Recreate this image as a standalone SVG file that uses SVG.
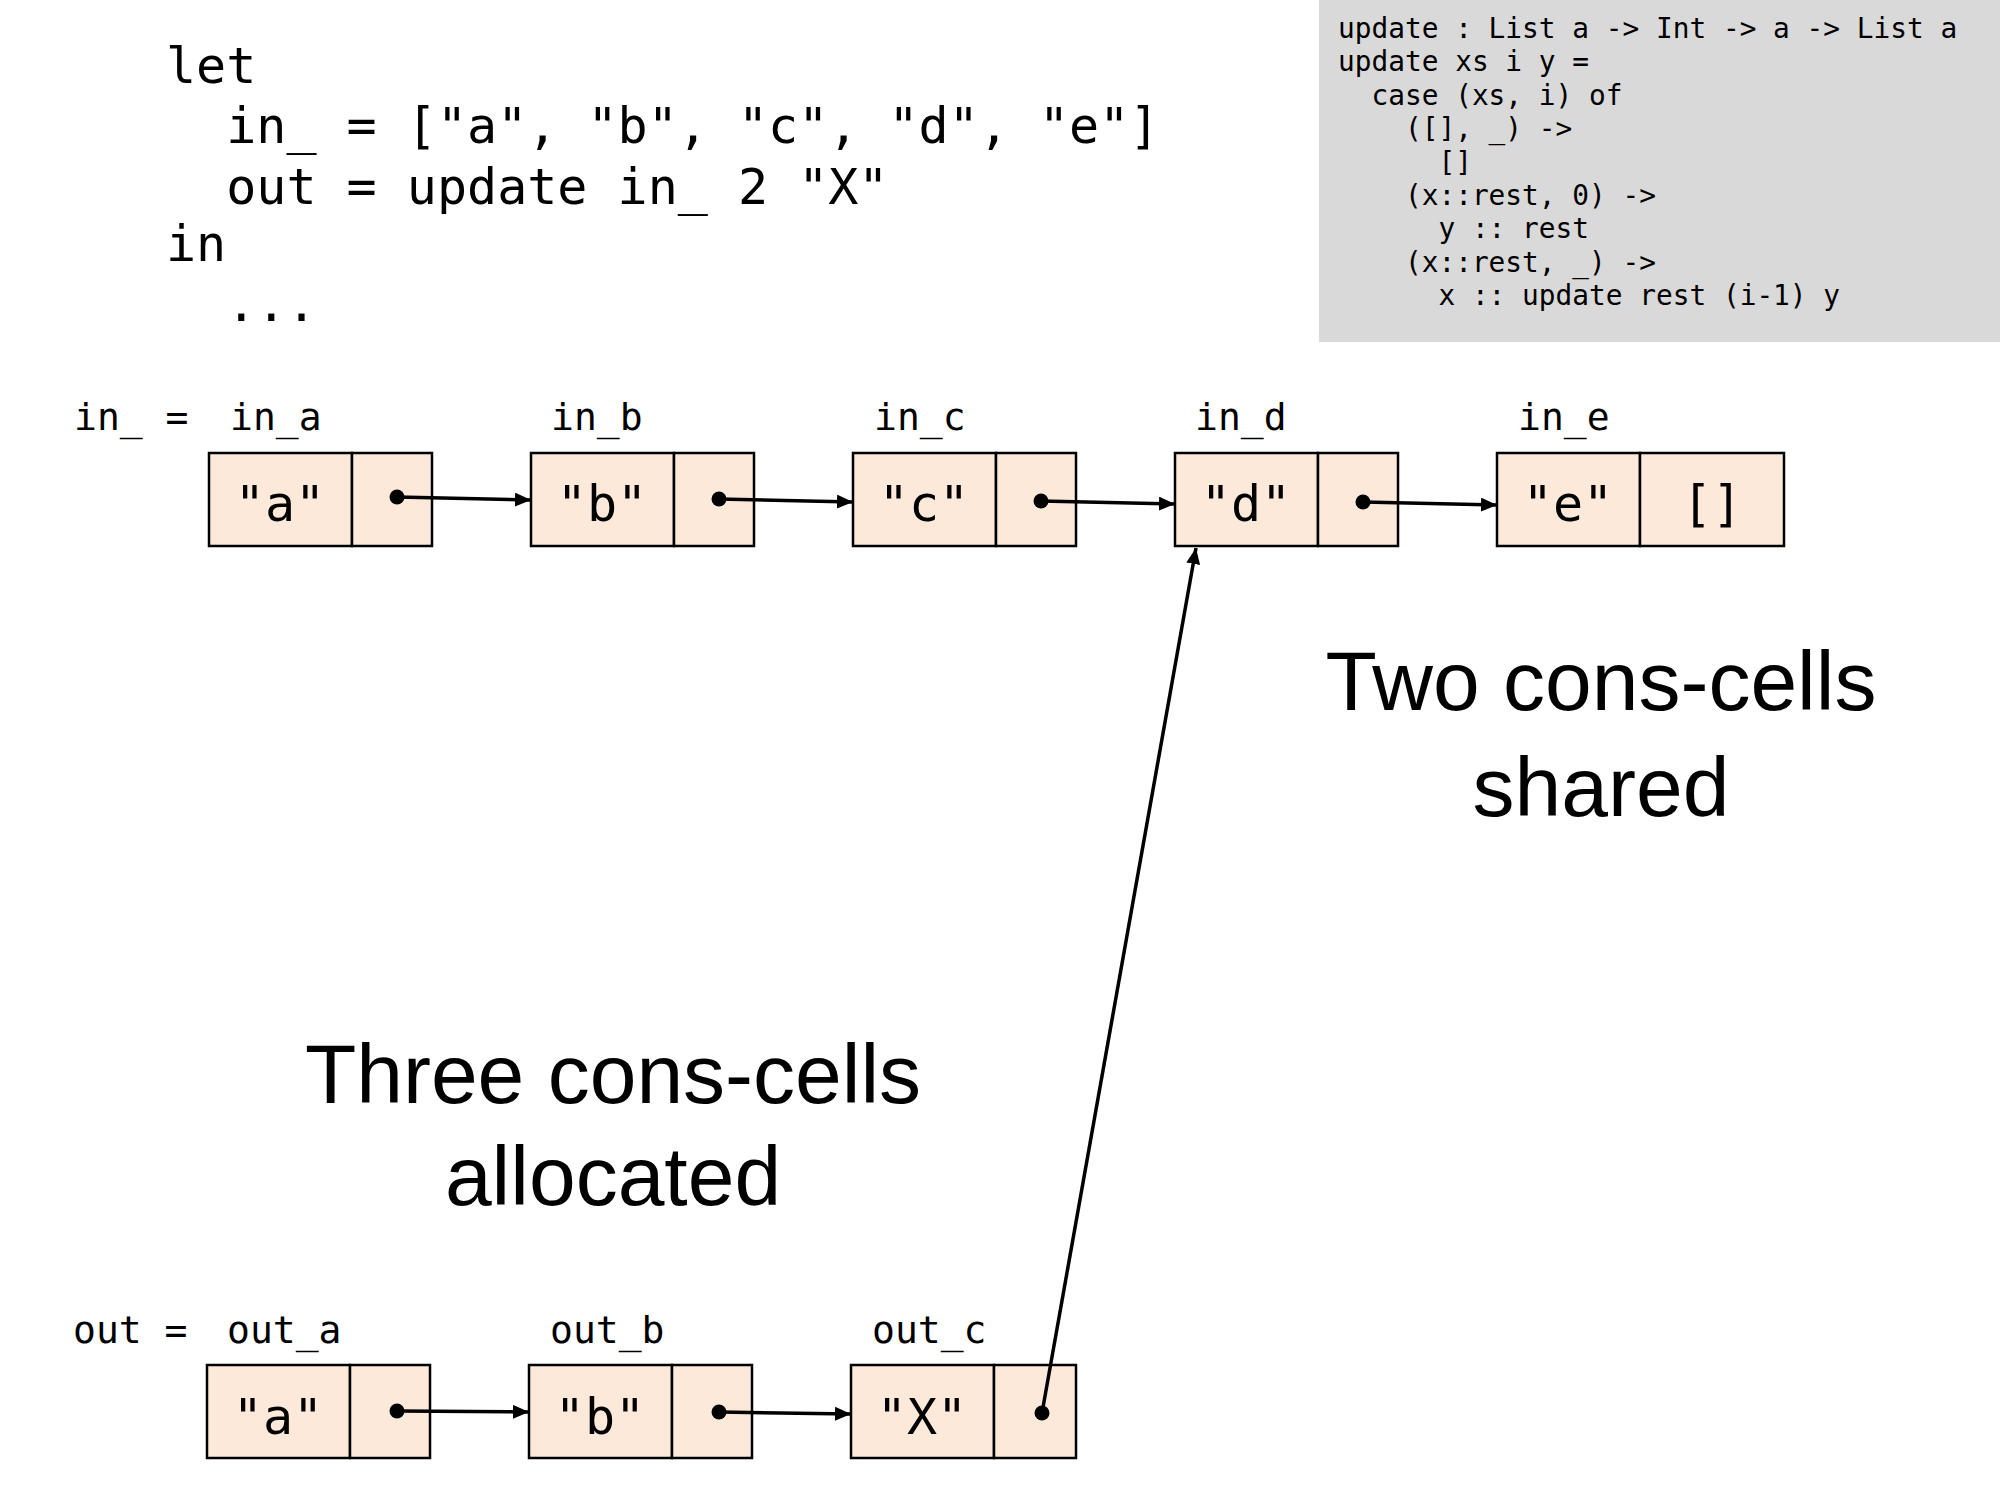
<svg xmlns="http://www.w3.org/2000/svg" width="2000" height="1500" viewBox="0 0 2000 1500">
  <defs>
    <marker id="arr" viewBox="0 0 16 14" refX="16" refY="7" markerWidth="16" markerHeight="14" markerUnits="userSpaceOnUse" orient="auto">
      <path d="M0,0 L16,7 L0,14 z" fill="#000"/>
    </marker>
    <style>
      .mono{font-family:"DejaVu Sans Mono","Liberation Mono",monospace;fill:#000}
      .code{font-size:50px}
      .small{font-size:27.8px}
      .lbl{font-size:38px}
      .val{font-size:50px;text-anchor:middle}
      .cell{fill:#fde9d9;stroke:#000;stroke-width:2.5}
      .big{font-family:"Liberation Sans","Open Sans",sans-serif;font-size:84px;text-anchor:middle;fill:#000}
      .edge{stroke:#000;stroke-width:3.5;fill:none;marker-end:url(#arr)}
      .dot{fill:#000}
    </style>
  </defs>
  <rect width="2000" height="1500" fill="#fff"/>

  <g id="let-code" class="mono code">
    <text x="166" y="83" xml:space="preserve">let</text>
    <text x="166" y="143" xml:space="preserve">  in_ = ["a", "b", "c", "d", "e"]</text>
    <text x="166" y="204" xml:space="preserve">  out = update in_ 2 "X"</text>
    <text x="166" y="261" xml:space="preserve">in</text>
    <text x="166" y="321" xml:space="preserve">  ...</text>
  </g>

  <g id="update-code">
    <rect x="1319" y="0" width="681" height="342" fill="#d9d9d9"/>
    <g class="mono small">
      <text x="1338" y="38" xml:space="preserve">update : List a -&gt; Int -&gt; a -&gt; List a</text>
      <text x="1338" y="71" xml:space="preserve">update xs i y =</text>
      <text x="1338" y="105" xml:space="preserve">  case (xs, i) of</text>
      <text x="1338" y="138" xml:space="preserve">    ([], _) -&gt;</text>
      <text x="1338" y="172" xml:space="preserve">      []</text>
      <text x="1338" y="205" xml:space="preserve">    (x::rest, 0) -&gt;</text>
      <text x="1338" y="238" xml:space="preserve">      y :: rest</text>
      <text x="1338" y="272" xml:space="preserve">    (x::rest, _) -&gt;</text>
      <text x="1338" y="305" xml:space="preserve">      x :: update rest (i-1) y</text>
    </g>
  </g>

  <g id="labels-in" class="mono lbl">
    <text x="74" y="430" xml:space="preserve">in_ =</text>
  </g>

  <g id="in_a">
    <text class="mono lbl" x="230" y="430">in_a</text>
    <rect class="cell" x="209" y="453" width="143" height="93"/>
    <rect class="cell" x="352" y="453" width="80" height="93"/>
    <text class="mono val" x="280" y="521">"a"</text>
    <circle class="dot" cx="397" cy="497" r="7.5"/>
  </g>
  <g id="in_b">
    <text class="mono lbl" x="551" y="430">in_b</text>
    <rect class="cell" x="531" y="453" width="143" height="93"/>
    <rect class="cell" x="674" y="453" width="80" height="93"/>
    <text class="mono val" x="602" y="521">"b"</text>
    <circle class="dot" cx="719" cy="499" r="7.5"/>
  </g>
  <g id="in_c">
    <text class="mono lbl" x="874" y="430">in_c</text>
    <rect class="cell" x="853" y="453" width="143" height="93"/>
    <rect class="cell" x="996" y="453" width="80" height="93"/>
    <text class="mono val" x="924" y="521">"c"</text>
    <circle class="dot" cx="1041" cy="501" r="7.5"/>
  </g>
  <g id="in_d">
    <text class="mono lbl" x="1195" y="430">in_d</text>
    <rect class="cell" x="1175" y="453" width="143" height="93"/>
    <rect class="cell" x="1318" y="453" width="80" height="93"/>
    <text class="mono val" x="1246" y="521">"d"</text>
    <circle class="dot" cx="1363" cy="502" r="7.5"/>
  </g>
  <g id="in_e">
    <text class="mono lbl" x="1518" y="430">in_e</text>
    <rect class="cell" x="1497" y="453" width="143" height="93"/>
    <rect class="cell" x="1640" y="453" width="144" height="93"/>
    <text class="mono val" x="1568" y="521">"e"</text>
    <text class="mono val" x="1712" y="521">[]</text>
  </g>

  <g id="labels-out" class="mono lbl">
    <text x="73" y="1343" xml:space="preserve">out =</text>
  </g>

  <g id="out_a">
    <text class="mono lbl" x="227" y="1343">out_a</text>
    <rect class="cell" x="207" y="1365" width="143" height="93"/>
    <rect class="cell" x="350" y="1365" width="80" height="93"/>
    <text class="mono val" x="278" y="1434">"a"</text>
    <circle class="dot" cx="397" cy="1411" r="7.5"/>
  </g>
  <g id="out_b">
    <text class="mono lbl" x="550" y="1343">out_b</text>
    <rect class="cell" x="529" y="1365" width="143" height="93"/>
    <rect class="cell" x="672" y="1365" width="80" height="93"/>
    <text class="mono val" x="600" y="1434">"b"</text>
    <circle class="dot" cx="719" cy="1412" r="7.5"/>
  </g>
  <g id="out_c">
    <text class="mono lbl" x="872" y="1343">out_c</text>
    <rect class="cell" x="851" y="1365" width="143" height="93"/>
    <rect class="cell" x="994" y="1365" width="82" height="93"/>
    <text class="mono val" x="922" y="1434">"X"</text>
    <circle class="dot" cx="1042" cy="1413" r="7.5"/>
  </g>

  <g id="connectors">
    <line class="edge" x1="397" y1="497" x2="531" y2="500"/>
    <line class="edge" x1="719" y1="499" x2="853" y2="502"/>
    <line class="edge" x1="1041" y1="501" x2="1175" y2="504"/>
    <line class="edge" x1="1363" y1="502" x2="1497" y2="505"/>
    <line class="edge" x1="397" y1="1411" x2="529" y2="1412"/>
    <line class="edge" x1="719" y1="1412" x2="851" y2="1414"/>
    <line class="edge" x1="1042" y1="1413" x2="1196" y2="548"/>
  </g>

  <g id="caption-shared">
    <text class="big" x="1601" y="710">Two cons-cells</text>
    <text class="big" x="1601" y="816">shared</text>
  </g>
  <g id="caption-allocated">
    <text class="big" x="613" y="1103">Three cons-cells</text>
    <text class="big" x="613" y="1205">allocated</text>
  </g>
</svg>
